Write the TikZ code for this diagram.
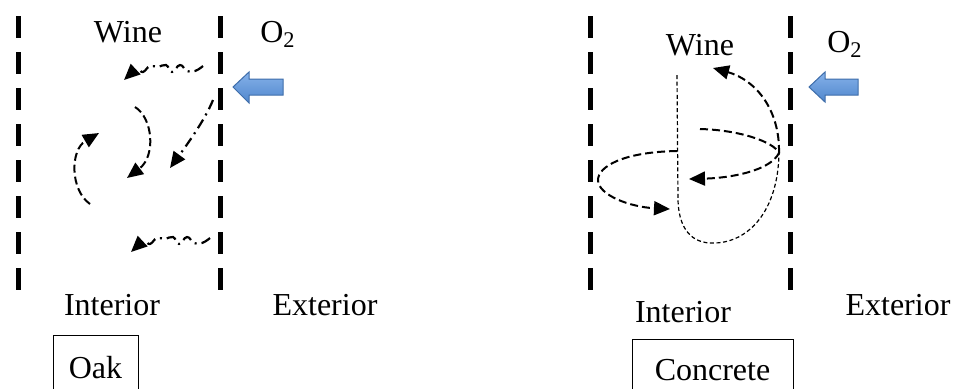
\documentclass[tikz,border=0pt]{standalone}
\usepackage{fontspec}
\setmainfont{Liberation Serif}
\usetikzlibrary{arrows.meta}
\definecolor{arrowtop}{HTML}{86B2EA}
\definecolor{arrowbottom}{HTML}{4F86CC}
\definecolor{arrowline}{HTML}{3E6DAA}
\begin{document}
\begin{tikzpicture}[x=0.5pt, y=-0.5pt,
  every node/.style={font=\fontsize{16}{19}\selectfont},
  wall/.style={line width=2.5pt, dash pattern=on 11pt off 7pt},
  flow/.style={line width=1pt, dash pattern=on 4pt off 2pt, -{Triangle[length=8pt,width=7pt]}},
  seep/.style={line width=1.1pt, dash pattern=on 5pt off 2.5pt on 1pt off 2.5pt, -{Triangle[length=8pt,width=7pt]}},
  fine/.style={line width=0.6pt, dash pattern=on 2pt off 1.3pt},
  tag/.style={draw, line width=0.5pt, inner sep=0pt},
  o2arrow/.style={draw=arrowline, line width=0.5pt, top color=arrowtop, bottom color=arrowbottom}]

\useasboundingbox (0,0) rectangle (964,388);
\clip (0,0) rectangle (964,388);

% barrel walls
\foreach \x in {18,220,590,790}
  \draw[wall] (\x,16) -- (\x,292);

% Oak side
\node (wineA) at (128,32) {Wine};
\node (oxyA) at (278,34) {O\textsubscript{2}};
\node (inA) at (112,305) {Interior};
\node (outA) at (325,305) {Exterior};
\node (oak) [tag, minimum width=42.5pt, minimum height=32.5pt] at (95.5,367.5) {Oak};

% Blue arrow, oak
\path[o2arrow] (233,87) -- (249,72) -- (249,79) -- (283,79) -- (283,95) -- (249,95) -- (249,103) -- cycle;

% seepage through the staves
\foreach \dx/\dy in {0/0, 7/172} {
  \draw[seep, shift={(\dx,\dy)}] plot[smooth, tension=0.8] coordinates
    {(203,66) (195,71) (187,71) (180,65) (172,72) (166,65) (158,67) (150,66) (143,72) (137,70) (124,80)};
}
\draw[seep] (213,100) .. controls (205,120) and (186,146) .. (170,168);

% stirring in the wine
\draw[flow] (135,107) .. controls (153,118) and (156,156) .. (127,178);
\draw[flow] (90,204) .. controls (70,190) and (70,150) .. (99,133);

% Concrete side
\node (wineB) at (700,45) {Wine};
\node (oxyB) at (845,44) {O\textsubscript{2}};
\node (inB) at (683,312) {Interior};
\node (outB) at (898,305) {Exterior};
\node (concrete) [tag, minimum width=80.5pt, minimum height=31pt] at (712.5,370) {Concrete};

% Blue arrow, concrete
\path[o2arrow] (809,87) -- (825,72) -- (825,79) -- (858,79) -- (858,95) -- (825,95) -- (825,102) -- cycle;

% convection loops
\draw[fine] (677,75) -- (678,200) .. controls (679,236) and (698,244) .. (715,243)
  .. controls (748,242) and (778,212) .. (779,153);
\draw[flow] (779,153) .. controls (780,110) and (756,80) .. (713,68);
\draw[flow] (700,129) .. controls (740,130) and (774,142) .. (779,153)
  .. controls (770,171) and (730,178) .. (689,179);
\draw[flow] (677,151) .. controls (622,152) and (598,167) .. (598,180)
  .. controls (598,195) and (630,207) .. (670,209);

\end{tikzpicture}
\end{document}
